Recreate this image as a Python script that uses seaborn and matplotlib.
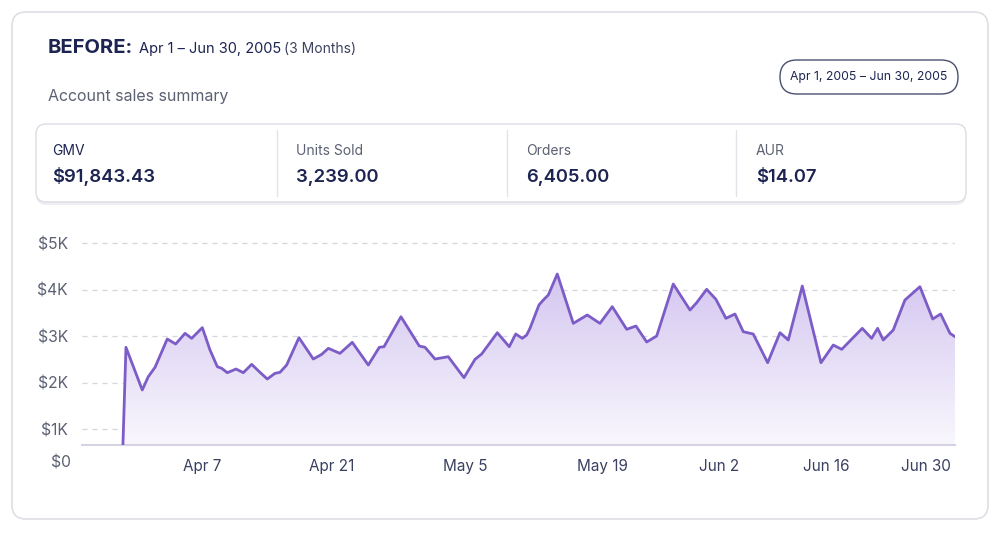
import numpy as np
import pandas as pd
import seaborn as sns
import matplotlib
matplotlib.use("Agg")
import matplotlib.pyplot as plt
from matplotlib.patches import FancyBboxPatch
from matplotlib.colors import LinearSegmentedColormap

# day offsets from Apr 1 (as laid out in the picture) and daily GMV traced from it
days = [0.0, 0.43, 2.19, 2.84, 3.57, 4.89, 5.80, 6.81, 7.53, 8.68, 9.51, 10.30,
        10.77, 11.38, 12.32, 13.11, 14.01, 14.83, 15.70, 16.53, 17.07, 17.79,
        19.12, 20.67, 21.58, 22.29, 23.55, 24.88, 26.61, 27.80, 28.31, 30.14,
        32.12, 32.74, 33.82, 35.25, 36.95, 38.14, 38.86, 40.55, 41.84, 42.54,
        43.25, 43.72, 44.08, 45.05, 45.52, 46.06, 47.03, 48.76, 50.27, 51.64,
        52.97, 54.53, 55.53, 56.69, 57.77, 59.56, 61.37, 62.09, 63.17, 64.17,
        65.25, 66.23, 67.12, 68.20, 69.76, 71.09, 71.99, 73.50, 75.52, 76.85,
        77.76, 79.98, 80.99, 81.64, 82.25, 83.33, 84.59, 86.21, 87.59, 88.45,
        89.46, 90.0]
gmv = [0, 2757, 1839, 2125, 2327, 2935, 2828, 3057, 2950, 3180, 2699, 2340,
       2305, 2211, 2290, 2211, 2391, 2233, 2075, 2197, 2219, 2376,
       2964, 2505, 2606, 2735, 2627, 2864, 2376, 2757, 2770, 3415,
       2785, 2757, 2505, 2555, 2104, 2498, 2613, 3071, 2770, 3043,
       2950, 3021, 3165, 3667, 3774, 3882, 4333, 3272, 3452, 3272,
       3631, 3144, 3215, 2871, 3000, 4118, 3559, 3717, 4004, 3789,
       3380, 3473, 3093, 3043, 2426, 3071, 2914, 4075, 2426, 2806,
       2713, 3165, 2950, 3165, 2914, 3129, 3774, 4060, 3366, 3473,
       3057, 2985]

tick_days = [8.64, 22.7, 37.1, 51.9, 64.5, 76.1, 86.9]
tick_labels = ["Apr 7", "Apr 21", "May 5", "May 19", "Jun 2", "Jun 16", "Jun 30"]
y_ticks = [1000, 2000, 3000, 4000, 5000]
y_labels = ["$1K", "$2K", "$3K", "$4K", "$5K"]

kpi_names = ["GMV", "Units Sold", "Orders", "AUR"]
kpi_values = ["$91,843.43", "3,239.00", "6,405.00", "$14.07"]

df = pd.DataFrame({"day": days, "gmv": gmv})

sns.set_theme(style="white")
plt.rcParams["font.family"] = ["Inter", "DejaVu Sans"]

NAVY = "#1d2452"
GRAY = "#5c6173"
LINE = "#7c5cc6"

fig = plt.figure(figsize=(10, 5.34), dpi=100)

# background layer in pixel coords for the card, header and kpi strip
bg = fig.add_axes([0, 0, 1, 1])
bg.set_xlim(0, 1000)
bg.set_ylim(534, 0)
bg.axis("off")

bg.add_patch(FancyBboxPatch((12, 12), 976, 507, boxstyle="round,pad=0,rounding_size=14",
                            fc="white", ec="#dedee4", lw=1.2))
bg.text(48, 48, "BEFORE:", fontsize=14.5, fontweight="bold", color=NAVY, va="center")
bg.text(139, 49, "Apr 1 – Jun 30, 2005", fontsize=10.5, color=NAVY, va="center")
bg.text(284, 49, "(3 Months)", fontsize=10, color="#3d4360", va="center")
bg.text(48, 96, "Account sales summary", fontsize=11.5, color=GRAY, va="center")

bg.add_patch(FancyBboxPatch((780, 60), 178, 34, boxstyle="round,pad=0,rounding_size=17",
                            fc="white", ec="#4a5070", lw=1.0))
bg.text(869, 77, "Apr 1, 2005 – Jun 30, 2005", fontsize=8.8, color=NAVY,
        ha="center", va="center")

# kpi strip with a soft shadow
bg.add_patch(FancyBboxPatch((36, 127), 930, 78, boxstyle="round,pad=0,rounding_size=10",
                            fc="#eeeef3", ec="none"))
bg.add_patch(FancyBboxPatch((36, 124), 930, 78, boxstyle="round,pad=0,rounding_size=10",
                            fc="white", ec="#dcdde4", lw=1.0))
for xd in [277, 507, 736]:
    bg.plot([xd, xd], [130, 196], color="#e3e3ea", lw=1)
for i, (name, val) in enumerate(zip(kpi_names, kpi_values)):
    x0 = [52, 296, 526, 756][i]
    bg.text(x0, 151, name, fontsize=10, color=NAVY if i == 0 else GRAY, va="center")
    bg.text(x0, 177, val, fontsize=13.3, fontweight="semibold", color=NAVY, va="center")

# chart
ax = fig.add_axes([0.082, 1 - 445 / 534, 0.873, 215 / 534])
ax.patch.set_alpha(0)
ymin, ymax = 656, 5280
ax.set_ylim(ymin, ymax)
ax.set_xlim(-4.32, 90)

poly = ax.fill_between(df["day"], df["gmv"], ymin - 500, color="none", lw=0)
cmap = LinearSegmentedColormap.from_list("fade", ["#f9f7fd", "#d3c5f0"])
grad = np.linspace(0, 1, 256).reshape(-1, 1)
img = ax.imshow(grad, cmap=cmap, aspect="auto", origin="lower",
                extent=[-4.32, 90, ymin, 4400], zorder=1)
img.set_clip_path(poly.get_paths()[0], transform=ax.transData)

sns.lineplot(data=df, x="day", y="gmv", ax=ax, color=LINE, lw=2, zorder=3)

ax.set_yticks(y_ticks)
ax.set_yticklabels(y_labels)
ax.set_xticks(tick_days)
ax.set_xticklabels(tick_labels)
ax.tick_params(axis="y", length=0, pad=10, labelsize=11.3, labelcolor=GRAY)
ax.tick_params(axis="x", length=0, pad=10, labelsize=11, labelcolor="#3a4060")
ax.grid(axis="y", ls=(0, (4, 4)), color="#d6d6de", lw=0.9)
ax.set_xlabel("")
ax.set_ylabel("")
for s in ["top", "right", "left"]:
    ax.spines[s].set_visible(False)
ax.spines["bottom"].set_color("#d5d3e3")
ax.spines["bottom"].set_linewidth(1.5)

# the zero label sits on the date row, below the axis line
bg.text(71, 463, "$0", fontsize=11.3, color=GRAY, ha="right", va="center")

fig.savefig("out.png", dpi=100)
